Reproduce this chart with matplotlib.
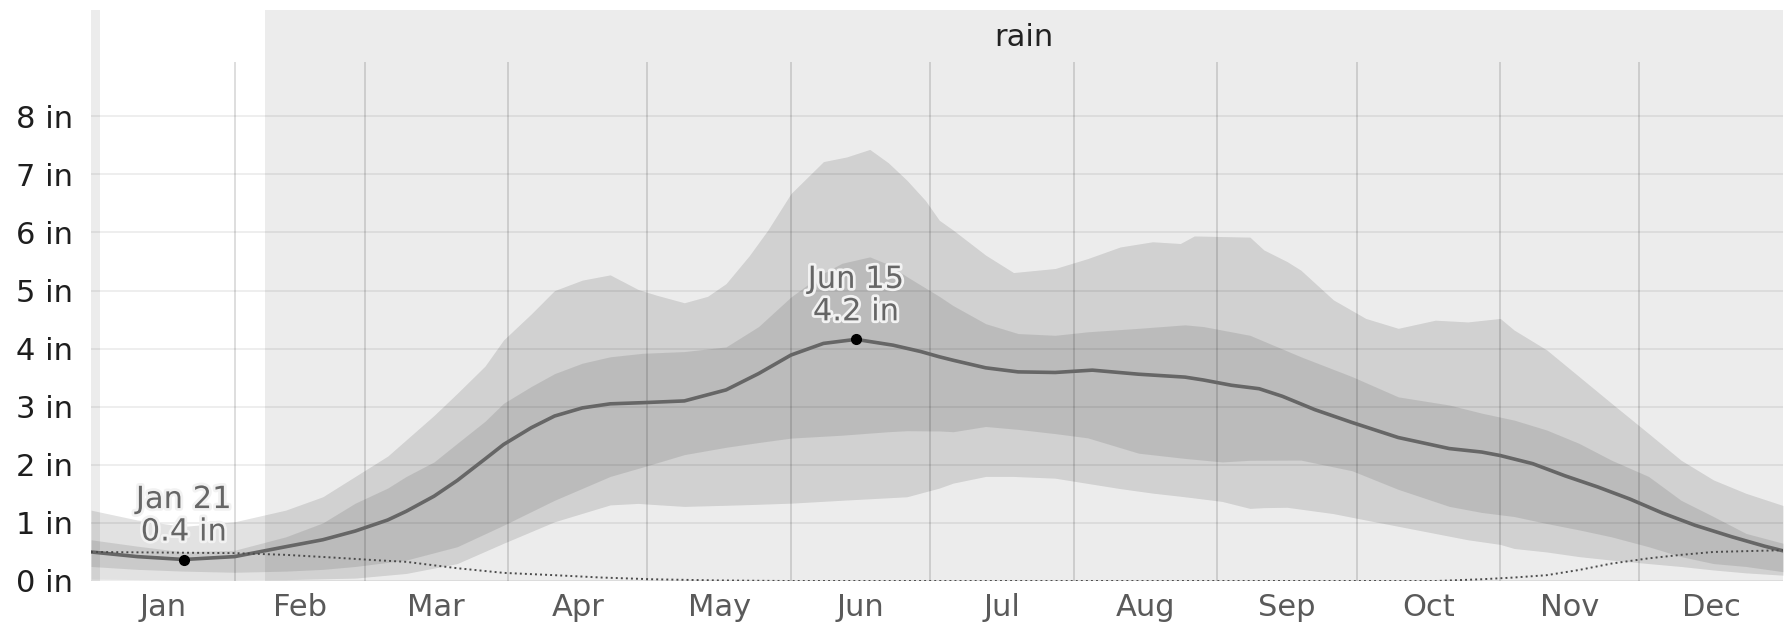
import datetime as dt

import matplotlib
matplotlib.use("Agg")
import matplotlib.pyplot as plt
import matplotlib.patheffects as pe
import numpy as np

# ---- data (inches of rain, sliding 31-day totals, by day of year) ----
month_names = ["Jan", "Feb", "Mar", "Apr", "May", "Jun",
               "Jul", "Aug", "Sep", "Oct", "Nov", "Dec"]
month_lengths = [31, 28, 31, 30, 31, 30, 31, 31, 30, 31, 30, 31]
y_ticks = [0, 1, 2, 3, 4, 5, 6, 7, 8]

season_label = "rain"
season_span = (37.6, 365)

median_days = [0, 10, 20, 31, 42, 50, 57, 64, 68, 74, 79, 85, 89, 95, 100, 106,
               112, 119, 128, 137, 144, 151, 158, 165, 173, 179, 183, 186, 193,
               200, 208, 216, 226, 236, 240, 246, 252, 257, 264, 272, 282, 293,
               300, 304, 311, 318, 325, 332, 339, 346, 354, 361, 365]
median_rain = [0.50, 0.42, 0.37, 0.42, 0.59, 0.71, 0.86, 1.05, 1.20, 1.46, 1.73,
               2.10, 2.35, 2.64, 2.84, 2.98, 3.05, 3.07, 3.10, 3.29, 3.57, 3.89,
               4.09, 4.16, 4.06, 3.95, 3.86, 3.80, 3.67, 3.60, 3.59, 3.63, 3.56,
               3.51, 3.46, 3.37, 3.31, 3.18, 2.95, 2.73, 2.47, 2.28, 2.22, 2.16,
               2.02, 1.81, 1.62, 1.41, 1.17, 0.96, 0.76, 0.60, 0.52]

p90_days = [0, 10, 20, 31, 42, 50, 57, 64, 68, 74, 79, 85, 89, 95, 100, 106, 112,
            118, 122, 128, 133, 137, 142, 146, 151, 158, 163, 168, 172, 176, 180,
            183, 186, 193, 199, 208, 215, 222, 229, 235, 238, 244, 250, 253, 258,
            261, 268, 275, 282, 290, 297, 304, 307, 314, 321, 328, 336, 343, 350,
            357, 365]
p90_rain = [1.22, 1.05, 0.94, 1.02, 1.22, 1.45, 1.80, 2.15, 2.43, 2.85, 3.23, 3.70,
            4.15, 4.60, 5.00, 5.18, 5.27, 5.02, 4.92, 4.79, 4.90, 5.12, 5.60, 6.04,
            6.67, 7.22, 7.30, 7.43, 7.20, 6.90, 6.55, 6.21, 6.04, 5.61, 5.31, 5.38,
            5.55, 5.75, 5.84, 5.81, 5.94, 5.93, 5.92, 5.70, 5.50, 5.35, 4.84, 4.52,
            4.35, 4.49, 4.46, 4.52, 4.32, 3.98, 3.52, 3.06, 2.54, 2.08, 1.74, 1.51,
            1.30]

p75_days = [0, 10, 20, 31, 42, 50, 57, 64, 68, 74, 79, 85, 89, 95, 100, 106, 112,
            119, 128, 137, 144, 151, 158, 162, 168, 172, 176, 183, 186, 193, 200,
            208, 215, 226, 236, 240, 244, 250, 261, 272, 282, 293, 300, 307, 314,
            321, 328, 336, 343, 350, 357, 365]
p75_rain = [0.71, 0.60, 0.50, 0.53, 0.76, 1.00, 1.34, 1.60, 1.80, 2.05, 2.37, 2.75,
            3.06, 3.35, 3.57, 3.75, 3.86, 3.92, 3.95, 4.03, 4.38, 4.89, 5.30, 5.47,
            5.58, 5.45, 5.24, 4.90, 4.74, 4.43, 4.26, 4.23, 4.29, 4.35, 4.41, 4.38,
            4.32, 4.23, 3.86, 3.52, 3.17, 3.03, 2.89, 2.77, 2.60, 2.37, 2.08, 1.80,
            1.39, 1.11, 0.82, 0.65]

p25_days = [0, 10, 20, 31, 42, 50, 57, 68, 79, 89, 100, 112, 122, 129, 140, 151,
            162, 172, 179, 186, 193, 200, 211, 218, 226, 236, 244, 257, 268, 275,
            286, 297, 300, 307, 314, 321, 328, 336, 343, 350, 357, 365]
p25_rain = [0.25, 0.20, 0.17, 0.15, 0.17, 0.20, 0.25, 0.36, 0.59, 0.96, 1.39, 1.80,
            2.03, 2.20, 2.34, 2.46, 2.51, 2.57, 2.60, 2.57, 2.66, 2.61, 2.51, 2.43,
            2.20, 2.11, 2.05, 2.11, 2.03, 1.80, 1.45, 1.19, 1.18, 1.11, 0.99, 0.88,
            0.76, 0.59, 0.42, 0.30, 0.25, 0.16]

p10_days = [0, 20, 40, 57, 68, 79, 89, 100, 112, 119, 126, 140, 151, 162, 176,
            183, 190, 200, 208, 215, 226, 236, 244, 250, 257, 268, 275, 286, 297,
            304, 307, 314, 321, 328, 336, 343, 350, 357, 365]
p10_rain = [0.03, 0.02, 0.02, 0.05, 0.13, 0.30, 0.65, 1.02, 1.31, 1.34, 1.28, 1.31,
            1.34, 1.39, 1.45, 1.60, 1.80, 1.80, 1.77, 1.68, 1.54, 1.45, 1.37, 1.25,
            1.28, 1.16, 1.05, 0.88, 0.71, 0.63, 0.56, 0.50, 0.42, 0.36, 0.30, 0.25,
            0.19, 0.14, 0.10]

snow_days = [0, 15, 31, 42, 53, 61, 68, 79, 89, 100, 110, 121, 135, 150, 200, 250,
             290, 300, 307, 314, 321, 328, 336, 343, 350, 365]
snow_liquid = [0.50, 0.49, 0.48, 0.45, 0.40, 0.36, 0.33, 0.22, 0.14, 0.10, 0.06,
               0.03, 0.01, 0.0, 0.0, 0.0, 0.0, 0.03, 0.06, 0.10, 0.19, 0.30, 0.39,
               0.45, 0.50, 0.53]

# ---- figure ----
W, H, DPI = 1784, 623, 100
fig = plt.figure(figsize=(W / DPI, H / DPI), dpi=DPI, facecolor="white")
ax = fig.add_axes([91 / W, 42 / H, (1783 - 91) / W, (613 - 42) / H])
ax.set_facecolor("white")
ax.set_xlim(0, 365)
ax.set_ylim(0, 9.83)

FONT = "DejaVu Sans"
FS = 22

# season shading
ax.axvspan(*season_span, color="#ececec", lw=0, zorder=0)
ax.axvspan(0, 2.0, color="#ececec", lw=0, zorder=0)
ax.text(sum(season_span) / 2, 9.36, season_label, ha="center", va="center",
        fontsize=FS, color="#222222", family=FONT, zorder=5)

# grid
month_starts = np.cumsum([0] + month_lengths[:-1])
for y in y_ticks:
    ax.axhline(y, color="black", alpha=0.075, lw=1.3, zorder=1)
ax.vlines(month_starts[1:], 0, 8.93, color="black", alpha=0.14, lw=1.3, zorder=1)

# percentile bands
ax.fill_between(np.array(p90_days), np.interp(p90_days, p10_days, p10_rain),
                p90_rain, color="black", alpha=0.115, lw=0, zorder=2)
ax.fill_between(np.array(p75_days), np.interp(p75_days, p25_days, p25_rain),
                p75_rain, color="black", alpha=0.10, lw=0, zorder=2)

# average rainfall and snowfall lines
ax.plot(median_days, median_rain, color="#666666", lw=2.6, zorder=4,
        solid_capstyle="round", solid_joinstyle="round")
ax.plot(snow_days, snow_liquid, color="#4a4a4a", lw=1.4, ls=(0, (1, 1.6)),
        zorder=4)

# extremes of the average line
base = dt.date(2023, 1, 1)
halo = [pe.withStroke(linewidth=4, foreground="#f2f2f2")]
for idx in (int(np.argmin(median_rain)), int(np.argmax(median_rain))):
    d, v = median_days[idx], median_rain[idx]
    ax.plot(d, v, "o", color="black", ms=7, zorder=6)
    day = base + dt.timedelta(days=d)
    label = f"{day.strftime('%b')} {day.day}\n{v:.1f} in"
    ax.annotate(label, (d, v), xytext=(0, 13), textcoords="offset pixels",
                ha="center", va="bottom", fontsize=FS, color="#666666",
                family=FONT, linespacing=1.15, path_effects=halo, zorder=7)

# axes decoration
for s in ax.spines.values():
    s.set_visible(False)
month_mids = month_starts + np.array(month_lengths) / 2
ax.set_xticks(month_mids)
ax.set_xticklabels(month_names)
ax.set_yticks(y_ticks)
ax.set_yticklabels([f"{t} in" for t in y_ticks])
ax.tick_params(axis="x", length=0, pad=9, labelsize=FS, labelcolor="#5a5a5a")
ax.tick_params(axis="y", length=0, pad=13, labelsize=FS, labelcolor="#1e1e1e")
for lab in ax.get_xticklabels() + ax.get_yticklabels():
    lab.set_family(FONT)

fig.savefig("out.png", dpi=DPI, facecolor="white")
